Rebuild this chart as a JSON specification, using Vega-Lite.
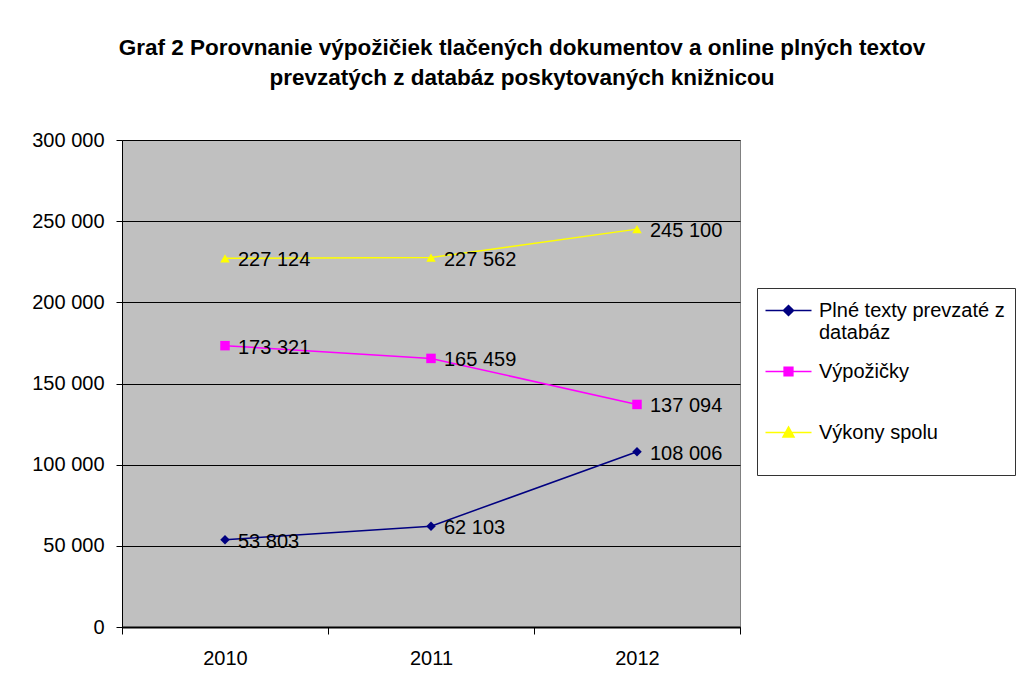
{
  "$schema": "https://vega.github.io/schema/vega-lite/v6.json",
  "autosize": "none",
  "width": 618,
  "height": 487,
  "padding": {"left": 122, "top": 140, "right": 283, "bottom": 59},
  "background": "white",
  "title": {
    "text": ["Graf 2 Porovnanie výpožičiek tlačených dokumentov a online plných textov", "prevzatých z databáz poskytovaných knižnicou"],
    "font": "Liberation Sans",
    "fontSize": 22.5,
    "fontWeight": "bold",
    "color": "black",
    "anchor": "middle",
    "frame": "group",
    "dx": 91,
    "offset": 41,
    "lineHeight": 30
  },
  "data": {
    "values": [
      {"year": "2010", "series": "Plné texty prevzaté z databáz", "value": 53803},
      {"year": "2011", "series": "Plné texty prevzaté z databáz", "value": 62103},
      {"year": "2012", "series": "Plné texty prevzaté z databáz", "value": 108006},
      {"year": "2010", "series": "Výpožičky", "value": 173321},
      {"year": "2011", "series": "Výpožičky", "value": 165459},
      {"year": "2012", "series": "Výpožičky", "value": 137094},
      {"year": "2010", "series": "Výkony spolu", "value": 227124},
      {"year": "2011", "series": "Výkony spolu", "value": 227562},
      {"year": "2012", "series": "Výkony spolu", "value": 245100}
    ]
  },
  "encoding": {
    "x": {
      "field": "year",
      "type": "ordinal",
      "scale": {"type": "band", "paddingInner": 0, "paddingOuter": 0},
      "axis": {
        "title": null,
        "labelAngle": 0,
        "labelFont": "Liberation Sans",
        "labelFontSize": 20,
        "labelColor": "black",
        "labelPadding": 14,
        "tickBand": "extent",
        "tickSize": 7,
        "tickColor": "black",
        "domainColor": "black",
        "domainWidth": 2,
        "grid": false
      }
    },
    "y": {
      "field": "value",
      "type": "quantitative",
      "scale": {"domain": [0, 300000], "nice": false},
      "axis": {
        "title": null,
        "values": [0, 50000, 100000, 150000, 200000, 250000, 300000],
        "format": ",d",
        "labelFont": "Liberation Sans",
        "labelFontSize": 20,
        "labelColor": "black",
        "labelPadding": 12,
        "tickSize": 6,
        "tickColor": "black",
        "domainColor": "black",
        "grid": true,
        "gridColor": "black",
        "gridWidth": 1,
        "gridOpacity": 1
      }
    },
    "color": {
      "field": "series",
      "type": "nominal",
      "sort": ["Plné texty prevzaté z databáz", "Výpožičky", "Výkony spolu"],
      "scale": {
        "domain": ["Plné texty prevzaté z databáz", "Výpožičky", "Výkony spolu"],
        "range": ["#000080", "#FF00FF", "#FFFF00"]
      },
      "legend": {
        "title": null,
        "orient": "none",
        "legendX": 635,
        "legendY": 148,
        "direction": "vertical",
        "fillColor": "white",
        "strokeColor": "#333333",
        "padding": 10,
        "labelFont": "Liberation Sans",
        "labelFontSize": 20,
        "labelColor": "black",
        "labelLimit": 400,
        "labelOffset": 18,
        "symbolOffset": 9,
        "rowPadding": 16,
        "symbolSize": 529,
        "symbolStrokeWidth": 1.5,
        "labelExpr": "datum.label == 'Plné texty prevzaté z databáz' ? ['Plné texty prevzaté z\u00a0\u00a0\u00a0\u00a0', 'databáz'] : [datum.label, '']",
        "encode": {
          "symbols": {
            "update": {
              "shape": {"signal": "datum.value == 'Výpožičky' ? 'M-2,0H2M-0.38,-0.38H0.38V0.38H-0.38Z' : datum.value == 'Výkony spolu' ? 'M-2,0H2M0,-0.48L0.48,0.4H-0.48Z' : 'M-2,0H2M0,-0.44L0.44,0L0,0.44L-0.44,0Z'"},
              "fill": {"scale": "color", "field": "value"},
              "stroke": {"scale": "color", "field": "value"},
              "opacity": {"value": 1},
              "fillOpacity": {"value": 1}
            }
          }
        }
      }
    }
  },
  "layer": [
    {"mark": {"type": "line", "strokeWidth": 1.5}},
    {
      "mark": {
        "type": "point",
        "filled": true,
        "opacity": 1,
        "size": 90,
        "shape": {"expr": "datum.series == 'Výpožičky' ? 'square' : datum.series == 'Výkony spolu' ? 'triangle-up' : 'diamond'"}
      }
    },
    {
      "mark": {"type": "text", "align": "left", "baseline": "middle", "dx": 13, "dy": 2, "font": "Liberation Sans", "fontSize": 20, "color": "black"},
      "encoding": {
        "text": {"field": "value", "type": "quantitative", "format": ",d"},
        "color": {"value": "black"}
      }
    }
  ],
  "config": {
    "locale": {"number": {"decimal": ",", "thousands": " ", "grouping": [3], "currency": ["", " €"]}},
    "view": {"fill": "#C0C0C0", "stroke": "#808080", "strokeWidth": 1}
  }
}
